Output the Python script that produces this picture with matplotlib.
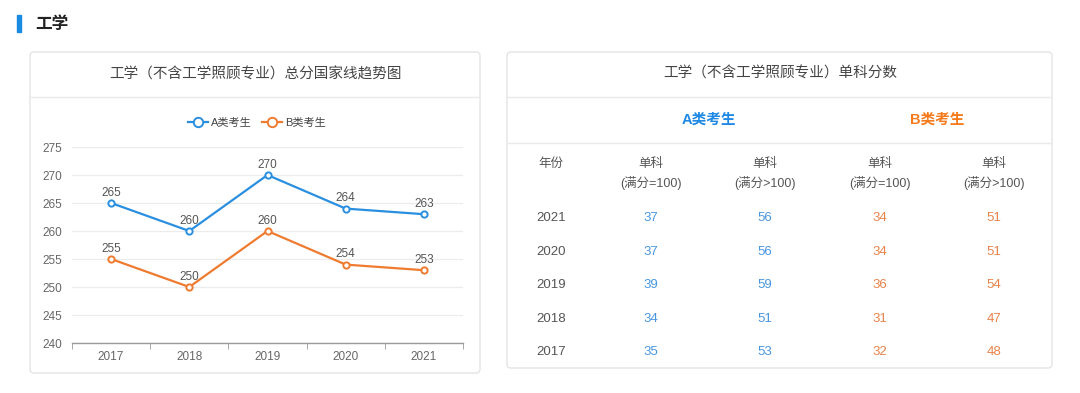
import matplotlib
matplotlib.use("Agg")
import matplotlib.pyplot as plt
from matplotlib.patches import FancyBboxPatch, Rectangle

plt.rcParams['font.family'] = ['Liberation Sans', 'Noto Sans CJK SC', 'DejaVu Sans']

# ---- data ----
years = ["2017", "2018", "2019", "2020", "2021"]
series_a = [265, 260, 270, 264, 263]
series_b = [255, 250, 260, 254, 253]
y_ticks = [240, 245, 250, 255, 260, 265, 270, 275]

table_years = ["2021", "2020", "2019", "2018", "2017"]
a_eq100 = [37, 37, 39, 34, 35]
a_gt100 = [56, 56, 59, 51, 53]
b_eq100 = [34, 34, 36, 31, 32]
b_gt100 = [51, 51, 54, 47, 48]

section_title = "工学"
chart_title = "工学（不含工学照顾专业）总分国家线趋势图"
table_title = "工学（不含工学照顾专业）单科分数"
legend_names = ["A类考生", "B类考生"]
col_headers = ["年份", "单科\n(满分=100)", "单科\n(满分>100)", "单科\n(满分=100)", "单科\n(满分>100)"]

BLUE = "#2b8fe0"
ORANGE = "#ee7b30"
TBLUE = "#4896e0"
TORANGE = "#e8834a"
GRAY = "#555555"

W, H = 1080, 393
fig = plt.figure(figsize=(W / 100, H / 100), dpi=100)
fig.patch.set_facecolor("white")

bg = fig.add_axes([0, 0, 1, 1])
bg.set_xlim(0, W)
bg.set_ylim(H, 0)
bg.axis("off")

# section header
bg.add_patch(Rectangle((17, 15), 4, 17, color="#1a8be0"))
bg.text(35, 24, section_title, fontsize=12, fontweight="bold", color="#222222", va="center", ha="left")

def card(x0, y0, x1, y1):
    bg.add_patch(FancyBboxPatch((x0, y0), x1 - x0, y1 - y0,
                                boxstyle="round,pad=0,rounding_size=4",
                                facecolor="white", edgecolor="#e4e4e4", linewidth=1.0))

# left card
card(30, 52, 480, 373)
bg.plot([31, 479], [97, 97], color="#eaeaea", lw=1)
bg.text(255, 74, chart_title, fontsize=10.5, color="#444444", ha="center", va="center")

# right card
card(507, 52, 1052, 368)
bg.plot([508, 1051], [97, 97], color="#eaeaea", lw=1)
bg.plot([508, 1051], [143, 143], color="#eaeaea", lw=1)
bg.text(780, 74, table_title, fontsize=10.5, color="#444444", ha="center", va="center")
bg.text(709, 120, legend_names[0], fontsize=10.5, fontweight="bold", color="#1e88e5", ha="center", va="center")
bg.text(937, 120, legend_names[1], fontsize=10.5, fontweight="bold", color="#f57a1c", ha="center", va="center")

col_x = [551, 651, 765, 880, 994]
for i, h in enumerate(col_headers):
    if i == 0:
        bg.text(col_x[i], 164, h, fontsize=9, color=GRAY, ha="center", va="center")
    else:
        l1, l2 = h.split("\n")
        bg.text(col_x[i], 164, l1, fontsize=9, color=GRAY, ha="center", va="center")
        bg.text(col_x[i], 183, l2, fontsize=9, color=GRAY, ha="center", va="center")

row_y = [218, 252, 285, 319, 352]
for r, yv in enumerate(table_years):
    vals = [(yv, GRAY), (a_eq100[r], TBLUE), (a_gt100[r], TBLUE),
            (b_eq100[r], TORANGE), (b_gt100[r], TORANGE)]
    for c, (v, col) in enumerate(vals):
        bg.text(col_x[c], row_y[r], str(v), fontsize=9.5, color=col, ha="center", va="center")

# line chart
ax = fig.add_axes([72 / W, (H - 343) / H, 391 / W, 196 / H])
x = list(range(len(years)))
la, = ax.plot(x, series_a, color=BLUE, lw=1.6, marker="o", ms=4.5,
              mfc="white", mec=BLUE, mew=1.4, label=legend_names[0], zorder=3)
lb, = ax.plot(x, series_b, color=ORANGE, lw=1.6, marker="o", ms=4.5,
              mfc="white", mec=ORANGE, mew=1.4, label=legend_names[1], zorder=3)
for xi, v in zip(x, series_a):
    ax.annotate(str(v), (xi, v), xytext=(0, 3), textcoords="offset points",
                ha="center", va="bottom", fontsize=8.5, color="#555555")
for xi, v in zip(x, series_b):
    ax.annotate(str(v), (xi, v), xytext=(0, 3), textcoords="offset points",
                ha="center", va="bottom", fontsize=8.5, color="#555555")

ax.set_xlim(-0.5, len(years) - 0.5)
ax.set_ylim(y_ticks[0], y_ticks[-1])
ax.set_yticks(y_ticks)
ax.set_xticks(x)
ax.set_xticklabels(years)
ax.set_xticks([i - 0.5 for i in range(len(years) + 1)], minor=True)
ax.tick_params(axis="x", which="major", length=0, pad=6, labelsize=8.5, labelcolor="#666666")
ax.tick_params(axis="x", which="minor", length=4, color="#999999", direction="out")
ax.tick_params(axis="y", length=0, pad=7, labelsize=8.5, labelcolor="#666666")
ax.grid(axis="y", color="#ececec", lw=0.9)
ax.set_axisbelow(True)
for s in ["top", "right", "left"]:
    ax.spines[s].set_visible(False)
ax.spines["bottom"].set_color("#999999")
ax.spines["bottom"].set_linewidth(1.0)
ax.set_facecolor("none")

leg = fig.legend(handles=[la, lb], loc="center", bbox_to_anchor=(257 / W, (H - 123) / H),
                 ncol=2, frameon=False, fontsize=8, handlelength=1.8, columnspacing=0.9,
                 handletextpad=0.3, labelcolor="#444444", markerscale=1.5)

fig.savefig("out.png", dpi=100, facecolor="white")
